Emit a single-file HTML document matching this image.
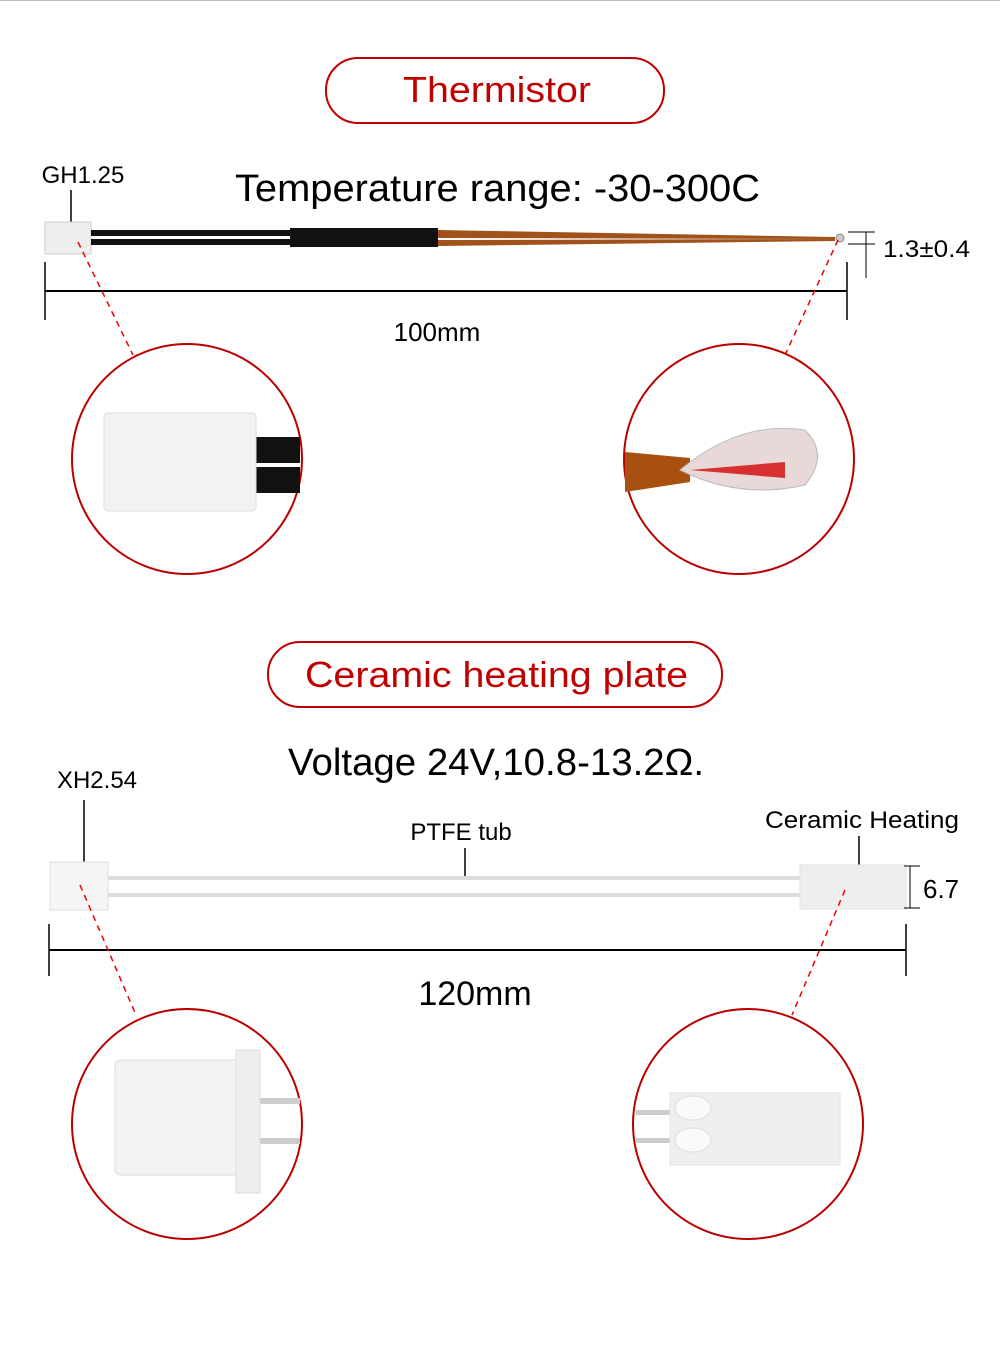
<!DOCTYPE html>
<html><head><meta charset="utf-8"><style>
html,body{margin:0;padding:0;background:#fff;width:1000px;height:1355px;overflow:hidden}
svg{display:block}
text{font-family:"Liberation Sans",sans-serif}
</style></head><body>
<svg width="1000" height="1355" viewBox="0 0 1000 1355" xmlns="http://www.w3.org/2000/svg">
<line x1="0" y1="0.5" x2="1000" y2="0.5" stroke="#bbb"/>
<rect x="326" y="58" width="338" height="65" rx="32" fill="#fff" stroke="#c00000" stroke-width="2"/>
<text x="403" y="102" font-size="36" fill="#c00000" textLength="188" lengthAdjust="spacingAndGlyphs">Thermistor</text>
<text x="83" y="183" font-size="24" text-anchor="middle">GH1.25</text>
<line x1="71" y1="190" x2="71" y2="230" stroke="#000" stroke-width="1.5"/>
<text x="235" y="201" font-size="38" textLength="525" lengthAdjust="spacingAndGlyphs">Temperature range: -30-300C</text>
<rect x="45" y="222" width="46" height="32" fill="#eee" stroke="#ccc"/>
<rect x="91" y="230" width="200" height="6" fill="#111"/>
<rect x="91" y="239" width="200" height="6" fill="#111"/>
<rect x="290" y="228" width="148" height="19" fill="#111"/>
<polygon points="438,230 835,237 835,239 438,238" fill="#a0521a"/>
<polygon points="438,240 835,239 835,241 438,246" fill="#a0521a"/>
<circle cx="840" cy="238" r="4" fill="#ccc" stroke="#888"/>
<line x1="848" y1="232" x2="875" y2="232" stroke="#000"/>
<line x1="848" y1="244" x2="875" y2="244" stroke="#000"/>
<line x1="866" y1="232" x2="866" y2="278" stroke="#000"/>
<text x="883" y="257" font-size="24" textLength="87" lengthAdjust="spacingAndGlyphs">1.3±0.4</text>
<line x1="45" y1="291" x2="847" y2="291" stroke="#000" stroke-width="2"/>
<line x1="45" y1="262" x2="45" y2="320" stroke="#000" stroke-width="1.5"/>
<line x1="847" y1="262" x2="847" y2="320" stroke="#000" stroke-width="1.5"/>
<text x="437" y="341" font-size="26" text-anchor="middle">100mm</text>
<line x1="78" y1="242" x2="133" y2="355" stroke="#e00" stroke-width="1.5" stroke-dasharray="6,5"/>
<line x1="838" y1="240" x2="785" y2="355" stroke="#e00" stroke-width="1.5" stroke-dasharray="6,5"/>
<circle cx="187" cy="459" r="115" fill="#fff" stroke="#b00" stroke-width="2"/>
<rect x="236" y="437" width="64" height="26" fill="#111"/>
<rect x="236" y="467" width="64" height="26" fill="#111"/>
<rect x="104" y="413" width="152" height="98" rx="4" fill="#f2f2f2" stroke="#ddd"/>
<circle cx="739" cy="459" r="115" fill="#fff" stroke="#b00" stroke-width="2"/>
<polygon points="625,452 690,458 690,482 625,492" fill="#a85010"/>
<path d="M680,470 Q740,420 805,430 Q830,455 805,485 Q740,500 680,470Z" fill="#e8d8d8" stroke="#bbb"/>
<path d="M690,470 L785,462 L785,478 Z" fill="#d83030"/>
<rect x="268" y="642" width="454" height="65" rx="32" fill="#fff" stroke="#c00000" stroke-width="2"/>
<text x="305" y="687" font-size="36" fill="#c00000" textLength="383" lengthAdjust="spacingAndGlyphs">Ceramic heating plate</text>
<text x="288" y="775" font-size="38" textLength="416" lengthAdjust="spacingAndGlyphs">Voltage 24V,10.8-13.2Ω.</text>
<text x="97" y="788" font-size="24" text-anchor="middle">XH2.54</text>
<line x1="84" y1="800" x2="84" y2="872" stroke="#000" stroke-width="1.5"/>
<text x="461" y="840" font-size="24" text-anchor="middle">PTFE tub</text>
<line x1="465" y1="848" x2="465" y2="878" stroke="#000" stroke-width="1.5"/>
<text x="862" y="828" font-size="24" text-anchor="middle" textLength="194" lengthAdjust="spacingAndGlyphs">Ceramic Heating</text>
<line x1="859" y1="836" x2="859" y2="880" stroke="#000" stroke-width="1.5"/>
<rect x="50" y="862" width="58" height="48" fill="#f5f5f5" stroke="#ddd"/>
<rect x="108" y="876" width="700" height="4" fill="#ddd"/>
<rect x="108" y="893" width="700" height="4" fill="#ddd"/>
<rect x="800" y="865" width="106" height="44" fill="#eee" stroke="#e2e2e2"/>
<line x1="904" y1="866" x2="920" y2="866" stroke="#000"/>
<line x1="904" y1="908" x2="920" y2="908" stroke="#000"/>
<line x1="910" y1="866" x2="910" y2="908" stroke="#000"/>
<text x="923" y="898" font-size="26">6.7</text>
<line x1="49" y1="950" x2="906" y2="950" stroke="#000" stroke-width="2"/>
<line x1="49" y1="924" x2="49" y2="976" stroke="#000" stroke-width="1.5"/>
<line x1="906" y1="924" x2="906" y2="976" stroke="#000" stroke-width="1.5"/>
<text x="475" y="1005" font-size="34" text-anchor="middle">120mm</text>
<line x1="80" y1="885" x2="136" y2="1015" stroke="#e00" stroke-width="1.5" stroke-dasharray="6,5"/>
<line x1="845" y1="890" x2="792" y2="1015" stroke="#e00" stroke-width="1.5" stroke-dasharray="6,5"/>
<circle cx="187" cy="1124" r="115" fill="#fff" stroke="#b00" stroke-width="2"/>
<rect x="240" y="1098" width="60" height="6" fill="#ccc"/>
<rect x="240" y="1138" width="60" height="6" fill="#ccc"/>
<rect x="115" y="1060" width="130" height="115" rx="6" fill="#f3f3f3" stroke="#ddd"/>
<rect x="236" y="1050" width="24" height="143" fill="#eee" stroke="#ddd"/>
<circle cx="748" cy="1124" r="115" fill="#fff" stroke="#b00" stroke-width="2"/>
<rect x="636" y="1110" width="40" height="5" fill="#ccc"/>
<rect x="636" y="1138" width="40" height="5" fill="#ccc"/>
<rect x="670" y="1093" width="170" height="72" fill="#efefef" stroke="#e2e2e2"/>
<ellipse cx="693" cy="1108" rx="18" ry="12" fill="#fafafa" stroke="#ddd"/>
<ellipse cx="693" cy="1140" rx="18" ry="12" fill="#fafafa" stroke="#ddd"/>
</svg>
</body></html>
